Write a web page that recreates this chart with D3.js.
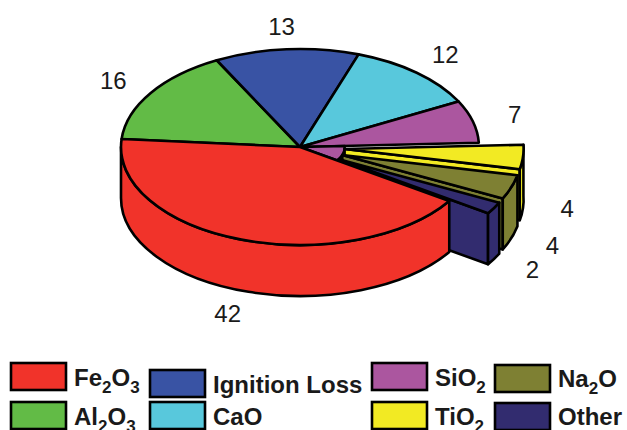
<!DOCTYPE html>
<html>
<head>
<meta charset="utf-8">
<script src="https://cdnjs.cloudflare.com/ajax/libs/d3/7.8.5/d3.min.js"></script>
<style>
html, body { margin: 0; padding: 0; background: #fff; }
svg { display: block; }
text { font-family: "Liberation Sans", Arial, sans-serif; fill: #1a1a1a; }
</style>
</head>
<body>
<div id="chart"></div>
<script>
const width = 627;
const height = 430;

// chart data
const categories = ["Fe2O3", "Al2O3", "Ignition Loss", "CaO", "SiO2", "TiO2", "Na2O", "Other"];
const values = [42, 16, 13, 12, 7, 4, 4, 2];
const colors = ["#f1332a", "#62bb46", "#3953a4", "#58c8dc", "#ab569f", "#f2ea23", "#7e8033", "#322c6f"];
const exploded = [0, 0, 0, 0, 0, 1, 1, 1];
// text pieces: [plain, subscript, plain, subscript]
const legendParts = [
	["Fe", "2", "O", "3"], ["Al", "2", "O", "3"], ["Ignition Loss"], ["CaO"],
	["SiO", "2"], ["TiO", "2"], ["Na", "2", "O"], ["Other"]
];

// layout
const cx = 300, cy = 147, rx = 179, ry = 98, depth = 51;
const explodeBy = 0.25;
const startDeg = 123.5;
const labelNudge = [[-5, 10], [-15, -4], [-3, -8], [11, -7], [16, -3], [62, 2], [58, 11], [54, 16]];
const legendSwatchX = [11, 11, 150, 150, 372, 372, 495, 495];
const legendSwatchY = [363, 402, 370, 402, 363, 402, 365, 403];
const legendBaseY = [386, 425, 393, 425, 386, 425, 387, 425];

const svg = d3.select("#chart").append("svg")
	.attr("width", width)
	.attr("height", height);

const rad = d3.scaleLinear().domain([0, 360]).range([0, 2 * Math.PI]);

const arcs = d3.pie().sort(null).value(d => d)
	.startAngle(rad(startDeg))
	.endAngle(rad(startDeg + 360))(values);

function center(a, i) {
	if (!exploded[i]) return [cx, cy];
	const m = (a.startAngle + a.endAngle) / 2;
	return [cx + explodeBy * rx * Math.sin(m), cy - explodeBy * ry * Math.cos(m)];
}
function rim(c, t, f) {
	return [c[0] + (f || 1) * rx * Math.sin(t), c[1] - (f || 1) * ry * Math.cos(t)];
}

function sector(c, t0, t1, f) {
	const p0 = rim(c, t0, f), p1 = rim(c, t1, f);
	const large = t1 - t0 > Math.PI ? 1 : 0;
	const s = f || 1;
	return `M${c}L${p0}A${rx * s},${ry * s} 0 ${large} 1 ${p1}Z`;
}
function wall(c, t0, t1) {
	const p0 = rim(c, t0), p1 = rim(c, t1);
	const large = t1 - t0 > Math.PI ? 1 : 0;
	return `M${p0}A${rx},${ry} 0 ${large} 1 ${p1}L${p1[0]},${p1[1] + depth}` +
		`A${rx},${ry} 0 ${large} 0 ${p0[0]},${p0[1] + depth}Z`;
}
function face(c, t) {
	const p = rim(c, t);
	return `M${c}L${p}L${p[0]},${p[1] + depth}L${c[0]},${c[1] + depth}Z`;
}

const pie = svg.append("g")
	.attr("stroke", "#000")
	.attr("stroke-width", 2.6)
	.attr("stroke-linejoin", "round");

function draw(d, fill) {
	pie.append("path").attr("d", d).attr("fill", fill);
}

// back slices first
arcs.forEach((a, i) => {
	if (i === 0 || exploded[i]) return;
	draw(sector([cx, cy], a.startAngle, a.endAngle), colors[i]);
});

// floor of the gap the pulled out slices leave behind
const pulled = arcs.filter((a, i) => exploded[i]);
draw(sector([cx, cy], pulled[0].startAngle, pulled[pulled.length - 1].endAngle, explodeBy), colors[4]);

// pulled out slices, back to front
arcs.forEach((a, i) => {
	if (!exploded[i]) return;
	const c = center(a, i);
	draw(face(c, a.endAngle), colors[i]);
	draw(wall(c, a.startAngle, a.endAngle), colors[i]);
	draw(sector(c, a.startAngle, a.endAngle), colors[i]);
});

// big front slice, its wall is cut off at the left edge of the ellipse
const red = arcs[0];
draw(wall([cx, cy], red.startAngle, Math.min(red.endAngle, rad(270))), colors[0]);
draw(sector([cx, cy], red.startAngle, red.endAngle), colors[0]);

// value labels
svg.append("g").selectAll("text")
	.data(arcs)
	.enter().append("text")
	.attr("text-anchor", "middle")
	.attr("font-size", 24)
	.attr("x", (a, i) => rim([cx, cy], (a.startAngle + a.endAngle) / 2, 1.15)[0] + labelNudge[i][0])
	.attr("y", (a, i) => {
		const m = (a.startAngle + a.endAngle) / 2;
		const front = Math.cos(m) < 0 ? depth : 0;
		return rim([cx, cy], m, 1.15)[1] + front + labelNudge[i][1] + 8;
	})
	.text(a => a.data);

// legend
const legend = svg.append("g").selectAll("g")
	.data(categories)
	.enter().append("g");

legend.append("rect")
	.attr("x", (d, i) => legendSwatchX[i])
	.attr("y", (d, i) => legendSwatchY[i])
	.attr("width", 55)
	.attr("height", 27)
	.attr("fill", (d, i) => colors[i])
	.attr("stroke", "#000")
	.attr("stroke-width", 2.6);

legend.append("text")
	.attr("x", (d, i) => legendSwatchX[i] + 63)
	.attr("y", (d, i) => legendBaseY[i])
	.attr("font-size", 24)
	.attr("font-weight", "bold")
	.each(function(d, i) {
		const t = d3.select(this);
		legendParts[i].forEach((s, k) => {
			const sub = k % 2 === 1;
			const prevSub = k > 0 && !sub;
			t.append("tspan")
				.attr("font-size", sub ? 17 : 24)
				.attr("dy", sub ? 7 : (prevSub ? -7 : 0))
				.text(s);
		});
	});
</script>
</body>
</html>
